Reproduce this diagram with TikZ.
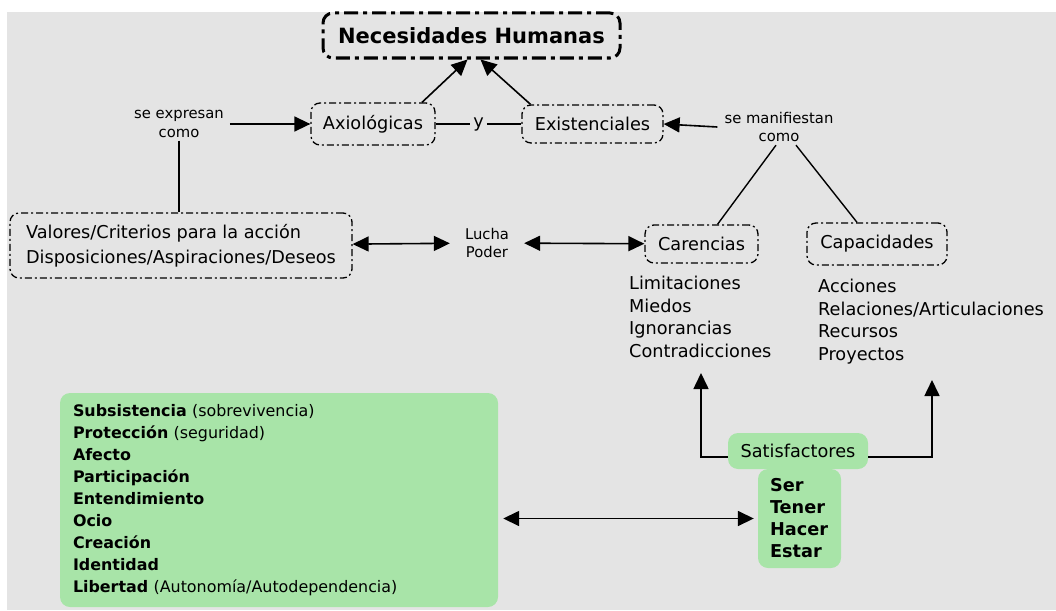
\documentclass[tikz,border=0pt]{standalone}
\usepackage{fontspec}
\setmainfont{DejaVu Sans}
\usepackage{tikz}
\usetikzlibrary{arrows.meta}
\definecolor{fondo}{HTML}{E4E4E4}
\definecolor{verde}{HTML}{A8E4A8}
\tikzset{
caja/.style={rectangle,draw,line width=1.3pt,rounded corners=9pt,dash pattern=on 7pt off 3pt on 2pt off 3pt,inner sep=0pt,align=left,font=\fontsize{17.7}{25}\selectfont},
titulo/.style={rectangle,draw,line width=3pt,rounded corners=10pt,dash pattern=on 14pt off 5pt on 4pt off 5pt,inner sep=0pt,font=\fontsize{21}{25}\selectfont\bfseries},
nota/.style={align=center,inner ysep=3pt,inner xsep=6pt,font=\fontsize{14.8}{18.5}\selectfont},
texto/.style={inner ysep=0pt,font=\fontsize{17.7}{22}\selectfont},
lista/.style={anchor=west,align=left,inner sep=0pt,font=\fontsize{17.7}{22.7}\selectfont},
verdebox/.style={rectangle,fill=verde,rounded corners=10pt,inner sep=0pt,align=left},
linea/.style={line width=1.4pt},
flecha/.style={line width=1.6pt,-{Triangle[length=16pt,width=15pt]}},
doble/.style={line width=1.6pt,{Triangle[length=16pt,width=15pt]}-{Triangle[length=16pt,width=15pt]}}
}
\begin{document}
\begin{tikzpicture}[x=1pt,y=-1pt]
\useasboundingbox (0,0) rectangle (1056,610);
\fill[fondo] (7,12) rectangle (1056,610);
\path (471.5,35.5) node(nec)[titulo,minimum width=297pt,minimum height=45pt]{Necesidades Humanas}
(373,124) node(axio)[caja,minimum width=124pt,minimum height=42pt]{Axiológicas}
(478.5,124) node(y)[texto,inner xsep=3pt]{y}
(592.5,124) node(exis)[caja,minimum width=141pt,minimum height=38pt]{Existenciales}
(179,124) node(expr)[nota]{se expresan\\como}
(779,127) node(mani)[nota,inner xsep=7pt]{se manifiestan\\como}
(181,245.5) node(valores)[caja,minimum width=342pt,minimum height=65pt]{Valores/Criterios para la acción\\
Disposiciones/Aspiraciones/Deseos}
(487,243) node(lucha)[nota,inner xsep=15pt]{Lucha\\Poder}
(701.5,244) node(car)[caja,minimum width=113pt,minimum height=38pt]{Carencias}
(877,244) node(cap)[caja,minimum width=140pt,minimum height=42pt]{Capacidades}
(629,317) node(listacar)[lista]{Limitaciones\\Miedos\\Ignorancias\\Contradicciones}
(818,321.5) node(listacap)[lista]{Acciones\\Relaciones/Articulaciones\\Recursos\\Proyectos}
(279,500) node(verdes)[verdebox,minimum height=214pt,inner xsep=13pt,text width=412pt,font=\fontsize{15.9}{22}\selectfont]{\textbf{Subsistencia} (sobrevivencia)\\
\textbf{Protección} (seguridad)\\ \textbf{Afecto}\\ \textbf{Participación}\\ \textbf{Entendimiento}\\
\textbf{Ocio}\\ \textbf{Creación}\\ \textbf{Identidad}\\ \textbf{Libertad} (Autonomía/Autodependencia)}
(799.5,518.5) node(ser)[verdebox,minimum height=99pt,inner xsep=12pt,text width=59pt,font=\fontsize{17.7}{22}\selectfont\bfseries]{Ser\\ Tener\\ Hacer\\ Estar}
(798,451) node(sat)[verdebox,minimum width=140pt,minimum height=36pt,font=\fontsize{17.7}{22}\selectfont]{Satisfactores};
\coordinate (pcar) at (701,373);
\coordinate (pcap) at (932,380);
\draw[flecha](expr)--(axio);
\draw[linea](axio)--(y)--(exis);
\draw[flecha](mani.west)--(exis.east);
\draw[flecha]([xshift=49pt]axio.north)--([xshift=-4pt]nec.south);
\draw[flecha]([xshift=-62pt]exis.north)--([xshift=9pt]nec.south);
\draw[linea](expr.south)--(expr.south |- valores.north);
\draw[linea]([xshift=-3pt]mani.south)--([xshift=16pt]car.north);
\draw[linea]([xshift=17pt]mani.south)--([xshift=-20pt]cap.north);
\draw[doble](valores)--(lucha);
\draw[doble](lucha)--(car);
\draw[doble,shorten <=5pt,shorten >=4pt](verdes.east |- ser.west)--(ser.west);
\draw[flecha]([yshift=-6pt]sat.west)-|(pcar);
\draw[flecha]([yshift=-6pt]sat.east)-|(pcap);
\end{tikzpicture}
\end{document}
